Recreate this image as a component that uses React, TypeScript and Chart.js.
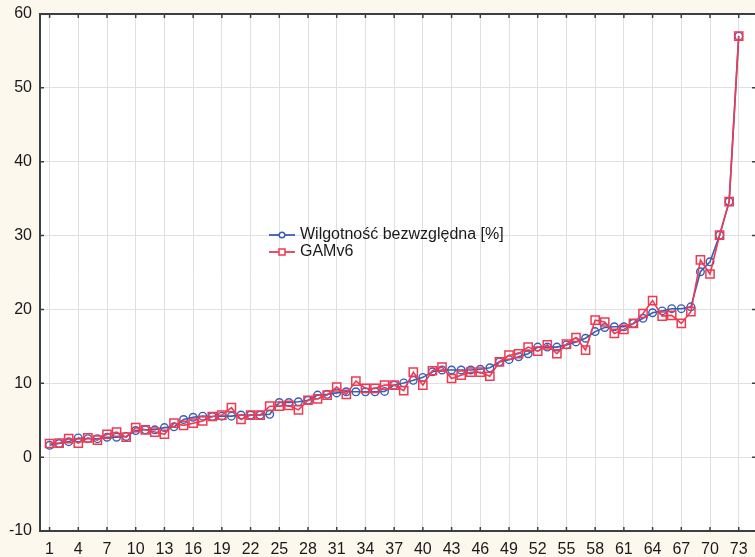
import { useEffect, useRef } from 'react';
import { Chart, registerables } from 'chart.js';

Chart.register(...registerables);

const categories: number[] = Array.from({ length: 73 }, (_, i) => i + 1);

const wilgotnosc: number[] = [
  1.6, 1.85, 2.1, 2.6, 2.5, 2.5, 2.7, 2.7, 2.8, 3.6,
  3.7, 3.7, 4.0, 4.1, 5.1, 5.4, 5.55, 5.5, 5.55, 5.55,
  5.7, 5.7, 5.7, 5.8, 7.4, 7.4, 7.5, 7.7, 8.4, 8.5,
  8.7, 8.85, 8.85, 8.85, 8.85, 8.9, 9.75, 10.05, 10.4, 10.8,
  11.55, 11.8, 11.8, 11.8, 11.8, 11.9, 12.1, 12.9, 13.2, 13.6,
  14.0, 14.9, 14.9, 14.9, 15.2, 15.6, 16.1, 17.0, 17.55, 17.65,
  17.65, 18.1, 18.8, 19.55, 19.8, 20.1, 20.1, 20.35, 25.1, 26.45,
  30.05, 34.6, 57.0,
];

const gamv6: number[] = [
  1.85, 1.9, 2.5, 1.9, 2.6, 2.3, 3.1, 3.4, 2.7, 4.0,
  3.7, 3.4, 3.1, 4.6, 4.3, 4.6, 4.9, 5.5, 5.7, 6.7,
  5.1, 5.7, 5.7, 6.9, 6.9, 7.0, 6.4, 7.7, 7.9, 8.4,
  9.5, 8.5, 10.3, 9.3, 9.3, 9.75, 9.75, 9.0, 11.5, 9.75,
  11.7, 12.2, 10.65, 11.1, 11.5, 11.5, 10.95, 12.9, 13.8, 14.0,
  14.9, 14.35, 15.2, 14.0, 15.3, 16.2, 14.5, 18.55, 18.3, 16.75,
  17.3, 18.1, 19.45, 21.2, 19.1, 19.2, 18.1, 19.7, 26.7, 24.8,
  30.05, 34.6, 57.0,
];

const xTickLabels: number[] = [1, 4, 7, 10, 13, 16, 19, 22, 25, 28, 31, 34, 37, 40, 43, 46, 49, 52, 55, 58, 61, 64, 67, 70, 73];
const yTickLabels: number[] = [-10, 0, 10, 20, 30, 40, 50, 60];

const seriesNames = ['Wilgotność bezwzględna [%]', 'GAMv6'];

const BLUE = '#3a5db5';
const RED = '#ee3a52';
const FRAME = '#3a3f3f';
const FONT = '"Liberation Sans", Arial, sans-serif';

const framePlugin = {
  id: 'framePlugin',
  beforeDraw(chart: any) {
    const { ctx, chartArea } = chart;
    ctx.save();
    ctx.fillStyle = '#ffffff';
    ctx.fillRect(chartArea.left, chartArea.top, chartArea.right - chartArea.left, chartArea.bottom - chartArea.top);
    ctx.restore();
  },
  afterDraw(chart: any) {
    const { ctx, chartArea, scales } = chart;
    const { left, right, top, bottom } = chartArea;
    ctx.save();
    ctx.strokeStyle = FRAME;
    ctx.lineWidth = 2;
    ctx.beginPath();
    ctx.moveTo(left, top);
    ctx.lineTo(right + 2, top);
    ctx.moveTo(left, top - 1);
    ctx.lineTo(left, bottom + 1);
    ctx.moveTo(left - 1, bottom);
    ctx.lineTo(right + 2, bottom);
    ctx.stroke();
    ctx.lineWidth = 1.5;
    ctx.beginPath();
    xTickLabels.forEach((v) => {
      const x = scales.x.getPixelForValue(v);
      ctx.moveTo(x, bottom);
      ctx.lineTo(x, bottom - 4);
      ctx.moveTo(x, top);
      ctx.lineTo(x, top + 4);
    });
    yTickLabels.forEach((v) => {
      const y = scales.y.getPixelForValue(v);
      ctx.moveTo(left, y);
      ctx.lineTo(left + 4, y);
      ctx.moveTo(right, y);
      ctx.lineTo(right - 3, y);
    });
    ctx.stroke();

    // legend
    const ds = chart.data.datasets;
    const rows = [
      { y: 235, color: BLUE, style: 'circle', label: ds[0].label },
      { y: 252, color: RED, style: 'rect', label: ds[1].label },
    ];
    rows.forEach((r) => {
      ctx.strokeStyle = r.color;
      ctx.lineWidth = 1.8;
      ctx.beginPath();
      ctx.moveTo(269, r.y);
      ctx.lineTo(295, r.y);
      ctx.stroke();
      ctx.lineWidth = 1.5;
      ctx.beginPath();
      if (r.style === 'circle') {
        ctx.arc(282, r.y, 2.8, 0, Math.PI * 2);
      } else {
        ctx.rect(279, r.y - 3, 6, 6);
      }
      ctx.fillStyle = '#ffffff';
      ctx.fill();
      ctx.stroke();
      ctx.fillStyle = '#1a1a1a';
      ctx.font = `16px ${FONT}`;
      ctx.textBaseline = 'middle';
      ctx.textAlign = 'left';
      ctx.fillText(r.label, 300, r.y);
    });
    ctx.restore();
  },
};

export default function App() {
  const ref = useRef<HTMLCanvasElement>(null);

  useEffect(() => {
    const canvas = ref.current;
    if (!canvas) return;
    const chart = new Chart(canvas, {
      type: 'line',
      data: {
        datasets: [
          {
            label: seriesNames[0],
            data: categories.map((c, i) => ({ x: c, y: wilgotnosc[i] })),
            borderColor: BLUE,
            backgroundColor: 'rgba(255,255,255,0)',
            borderWidth: 1.6,
            pointStyle: 'circle',
            pointRadius: 3.8,
            pointBorderWidth: 1.4,
            pointBorderColor: BLUE,
            pointBackgroundColor: 'rgba(255,255,255,0)',
            tension: 0,
            order: 2,
          },
          {
            label: seriesNames[1],
            data: categories.map((c, i) => ({ x: c, y: gamv6[i] })),
            borderColor: RED,
            backgroundColor: 'rgba(255,255,255,0)',
            borderWidth: 1.6,
            pointStyle: 'rect',
            pointRadius: 5.8,
            pointBorderWidth: 1.5,
            pointBorderColor: RED,
            pointBackgroundColor: 'rgba(255,255,255,0)',
            tension: 0,
            order: 1,
          },
        ],
      },
      options: {
        animation: false,
        responsive: false,
        maintainAspectRatio: false,
        layout: { autoPadding: false, padding: { top: 14, right: 0, left: 0, bottom: 0 } },
        plugins: {
          legend: { display: false },
          tooltip: { enabled: false },
        },
        scales: {
          x: {
            type: 'linear',
            min: 0,
            max: 74.7,
            afterBuildTicks: (s: any) => {
              s.ticks = xTickLabels.map((v) => ({ value: v }));
            },
            afterFit: (s: any) => {
              s.height = 26;
              s.paddingLeft = 0;
              s.paddingRight = 0;
            },
            grid: { color: '#e0e0e0', lineWidth: 1, drawTicks: false },
            border: { display: false },
            ticks: {
              autoSkip: false,
              maxRotation: 0,
              padding: 9,
              color: '#1a1a1a',
              font: { family: FONT, size: 16 },
            },
          },
          y: {
            type: 'linear',
            min: -10,
            max: 60,
            afterBuildTicks: (s: any) => {
              s.ticks = yTickLabels.map((v) => ({ value: v }));
            },
            afterFit: (s: any) => {
              s.width = 40;
              s.paddingTop = 0;
              s.paddingBottom = 0;
            },
            grid: { color: '#e0e0e0', lineWidth: 1, drawTicks: false },
            border: { display: false },
            ticks: {
              padding: 8,
              color: '#1a1a1a',
              font: { family: FONT, size: 16 },
            },
          },
        },
      },
      plugins: [framePlugin],
    } as any);
    return () => chart.destroy();
  }, []);

  return (
    <div
      style={{
        position: 'fixed',
        left: 0,
        top: 0,
        width: 755,
        height: 557,
        background: '#fcf8ee',
        overflow: 'hidden',
      }}
    >
      <canvas ref={ref} width={755} height={557} style={{ display: 'block' }} />
    </div>
  );
}
